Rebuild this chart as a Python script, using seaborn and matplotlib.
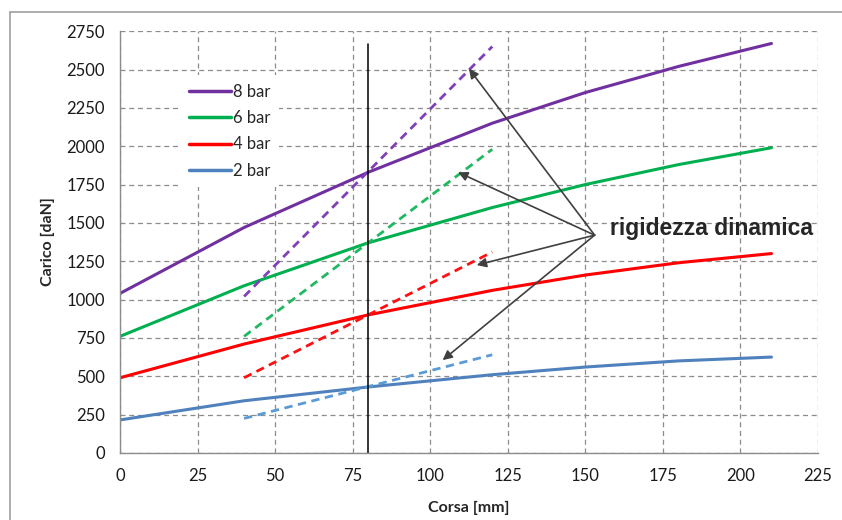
import matplotlib
matplotlib.use("Agg")
import matplotlib.pyplot as plt
from matplotlib.lines import Line2D
import seaborn as sns

# curve measured (solid) - corsa [mm] vs carico [daN]
corsa = [0, 40, 80, 120, 150, 180, 210]
carico_8bar = [1040, 1470, 1830, 2150, 2350, 2520, 2670]
carico_6bar = [760, 1090, 1370, 1600, 1750, 1880, 1990]
carico_4bar = [490, 710, 900, 1060, 1160, 1240, 1300]
carico_2bar = [215, 340, 430, 510, 560, 600, 625]

# rigidezza dinamica (dashed tangents)
corsa_rig = [40, 120]
rig_8bar = [1020, 2650]
rig_6bar = [760, 1980]
rig_4bar = [490, 1310]
rig_2bar = [225, 640]

labels = ["8 bar", "6 bar", "4 bar", "2 bar"]
colors = ["#7030A0", "#00B050", "#FF0000", "#4F81BD"]
dash_colors = ["#8040B8", "#20B860", "#FF1010", "#5B9BD5"]

sns.set_style("white")
plt.rcParams['font.family'] = ['Lato', 'DejaVu Sans']

fig, ax = plt.subplots(figsize=(8.42, 5.2), dpi=100)
fig.subplots_adjust(left=0.1425, right=0.9715, top=0.94, bottom=0.129)

solid = [carico_8bar, carico_6bar, carico_4bar, carico_2bar]
dashed = [rig_8bar, rig_6bar, rig_4bar, rig_2bar]
for y, lab, c in zip(solid, labels, colors):
    sns.lineplot(x=corsa, y=y, ax=ax, color=c, linewidth=2.2, label=lab)
for y, c in zip(dashed, dash_colors):
    sns.lineplot(x=corsa_rig, y=y, ax=ax, color=c, linewidth=2, linestyle=(0, (3, 2)))

# vertical reference at 80 mm
ax.plot([80, 80], [0, 2665], color="black", linewidth=1.1)

ax.set_xlim(0, 225)
ax.set_ylim(0, 2750)
ax.set_xticks(range(0, 226, 25))
ax.set_yticks(range(0, 2751, 250))
ax.grid(True, color="#8c8c8c", linestyle=(0, (4, 3)), linewidth=0.9)
for s in ["top", "right"]:
    ax.spines[s].set_visible(False)
for s in ["left", "bottom"]:
    ax.spines[s].set_color("#8c8c8c")
    ax.spines[s].set_linewidth(1)
ax.tick_params(axis="both", direction="out", length=5, color="#8c8c8c",
               labelsize=12, pad=6, labelcolor="#1a1a1a")
ax.set_xlabel("Corsa [mm]", fontsize=11.5, fontweight="bold", labelpad=12)
ax.set_ylabel("Carico [daN]", fontsize=11.5, fontweight="bold", labelpad=8)

handles = [Line2D([0], [0], color=c, linewidth=2.5) for c in colors]
leg = ax.legend(handles, labels, loc="upper left", bbox_to_anchor=(0.075, 0.915),
                frameon=True, facecolor="white", edgecolor="none", framealpha=1,
                fancybox=False, fontsize=12, handlelength=2.5, handletextpad=0.15,
                labelspacing=0.62, borderpad=0.5)

# annotation
start = (153, 1420)
targets = [(112.5, 2505), (109, 1830), (115, 1225), (104, 605)]
for t in targets:
    ax.annotate("", xy=t, xytext=start,
                arrowprops=dict(arrowstyle="-|>", color="#404040", lw=1.2,
                                mutation_scale=14, shrinkA=0, shrinkB=0))
ax.text(158, 1465, "rigidezza dinamica", fontsize=16.5, fontweight="bold",
        family=["Liberation Sans", "DejaVu Sans"], va="center", ha="left")

# outer chart border
fig.add_artist(Line2D([0.012, 0.012], [0, 0.977], color="#a0a0a0", linewidth=1.2,
                      transform=fig.transFigure))
fig.add_artist(Line2D([0.012, 1.0], [0.977, 0.977], color="#a0a0a0", linewidth=1.2,
                      transform=fig.transFigure))

fig.savefig("out.png", dpi=100)
